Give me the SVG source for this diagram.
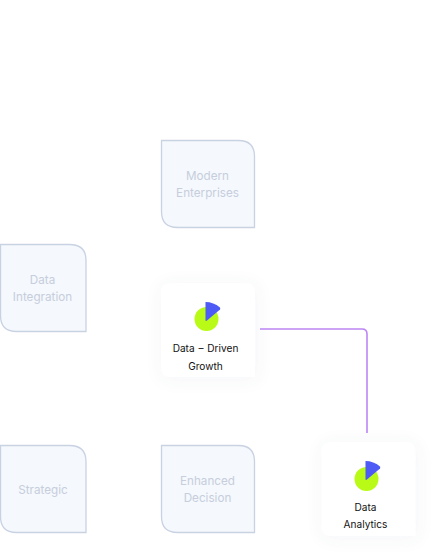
<svg xmlns="http://www.w3.org/2000/svg" width="435" height="559" viewBox="0 0 435 559">
<style>
.g{fill:#f5f8fc;stroke:#c9d2e3;stroke-width:1.3}
.gt{font-family:"Inter","Liberation Sans",sans-serif;font-size:11.700px;fill:#c6cedd;text-anchor:middle}
.c{fill:#fff;filter:url(#s)}
.wt{font-family:"Inter","Liberation Sans",sans-serif;font-size:10.100px;fill:#111;text-anchor:middle;word-spacing:1px}
.y{fill:#b9fb16}
.b{fill:#4f5bf5}
.l{fill:none;stroke:#bd85f4;stroke-width:1.6}
</style>
<defs>
<filter id="s" x="-30%" y="-30%" width="160%" height="160%"><feDropShadow dx="1" dy="2" stdDeviation="8" flood-color="#5a6a9a" flood-opacity=".07"/></filter>
<path id="box" d="M0 0H77Q93 0 93 16V87H16Q0 87 0 71Z"/>
<path id="sbox" d="M0 0H69Q85.500 0 85.500 16V87H16Q0 87 0 71Z"/>
<path id="card" d="M10 0H84Q94 0 94 10V94H10Q0 94 0 84V10Q0 0 10 0Z"/>
<path id="tri" d="M0 0Q8 0 14.500 5.500Q15 6.500 14.500 7.500L1.500 18.500Q0 19.500 0 18Z"/>
</defs>
<g id="connectors"><path class="l" d="M260 329H362Q367 329 367 334V433"/></g>
<g id="n-modern"><use href="#box" x="161.500" y="140.500" class="g"/><text class="gt" x="207.500" y="180">Modern</text><text class="gt" x="207.500" y="197">Enterprises</text></g>
<g id="n-integration"><use href="#sbox" x="0.500" y="244.500" class="g"/><text class="gt" x="42.500" y="284">Data</text><text class="gt" x="42.500" y="301">Integration</text></g>
<g id="n-strategic"><use href="#sbox" x="0.500" y="445.500" class="g"/><text class="gt" x="43" y="494">Strategic</text></g>
<g id="n-decision"><use href="#box" x="161.500" y="445.500" class="g"/><text class="gt" x="207.500" y="485">Enhanced</text><text class="gt" x="207.500" y="502">Decision</text></g>
<g id="n-growth"><use href="#card" x="161" y="283" class="c"/><circle class="y" cx="206.500" cy="319" r="12"/><use href="#tri" x="205.500" y="302" class="b"/><text class="wt" x="205.500" y="352">Data – Driven</text><text class="wt" x="205.500" y="370">Growth</text></g>
<g id="n-analytics"><use href="#card" x="321.500" y="442" class="c"/><circle class="y" cx="366.500" cy="479" r="12"/><use href="#tri" x="365.500" y="461" class="b"/><text class="wt" x="365.500" y="511">Data</text><text class="wt" x="365.500" y="528">Analytics</text></g>
</svg>
